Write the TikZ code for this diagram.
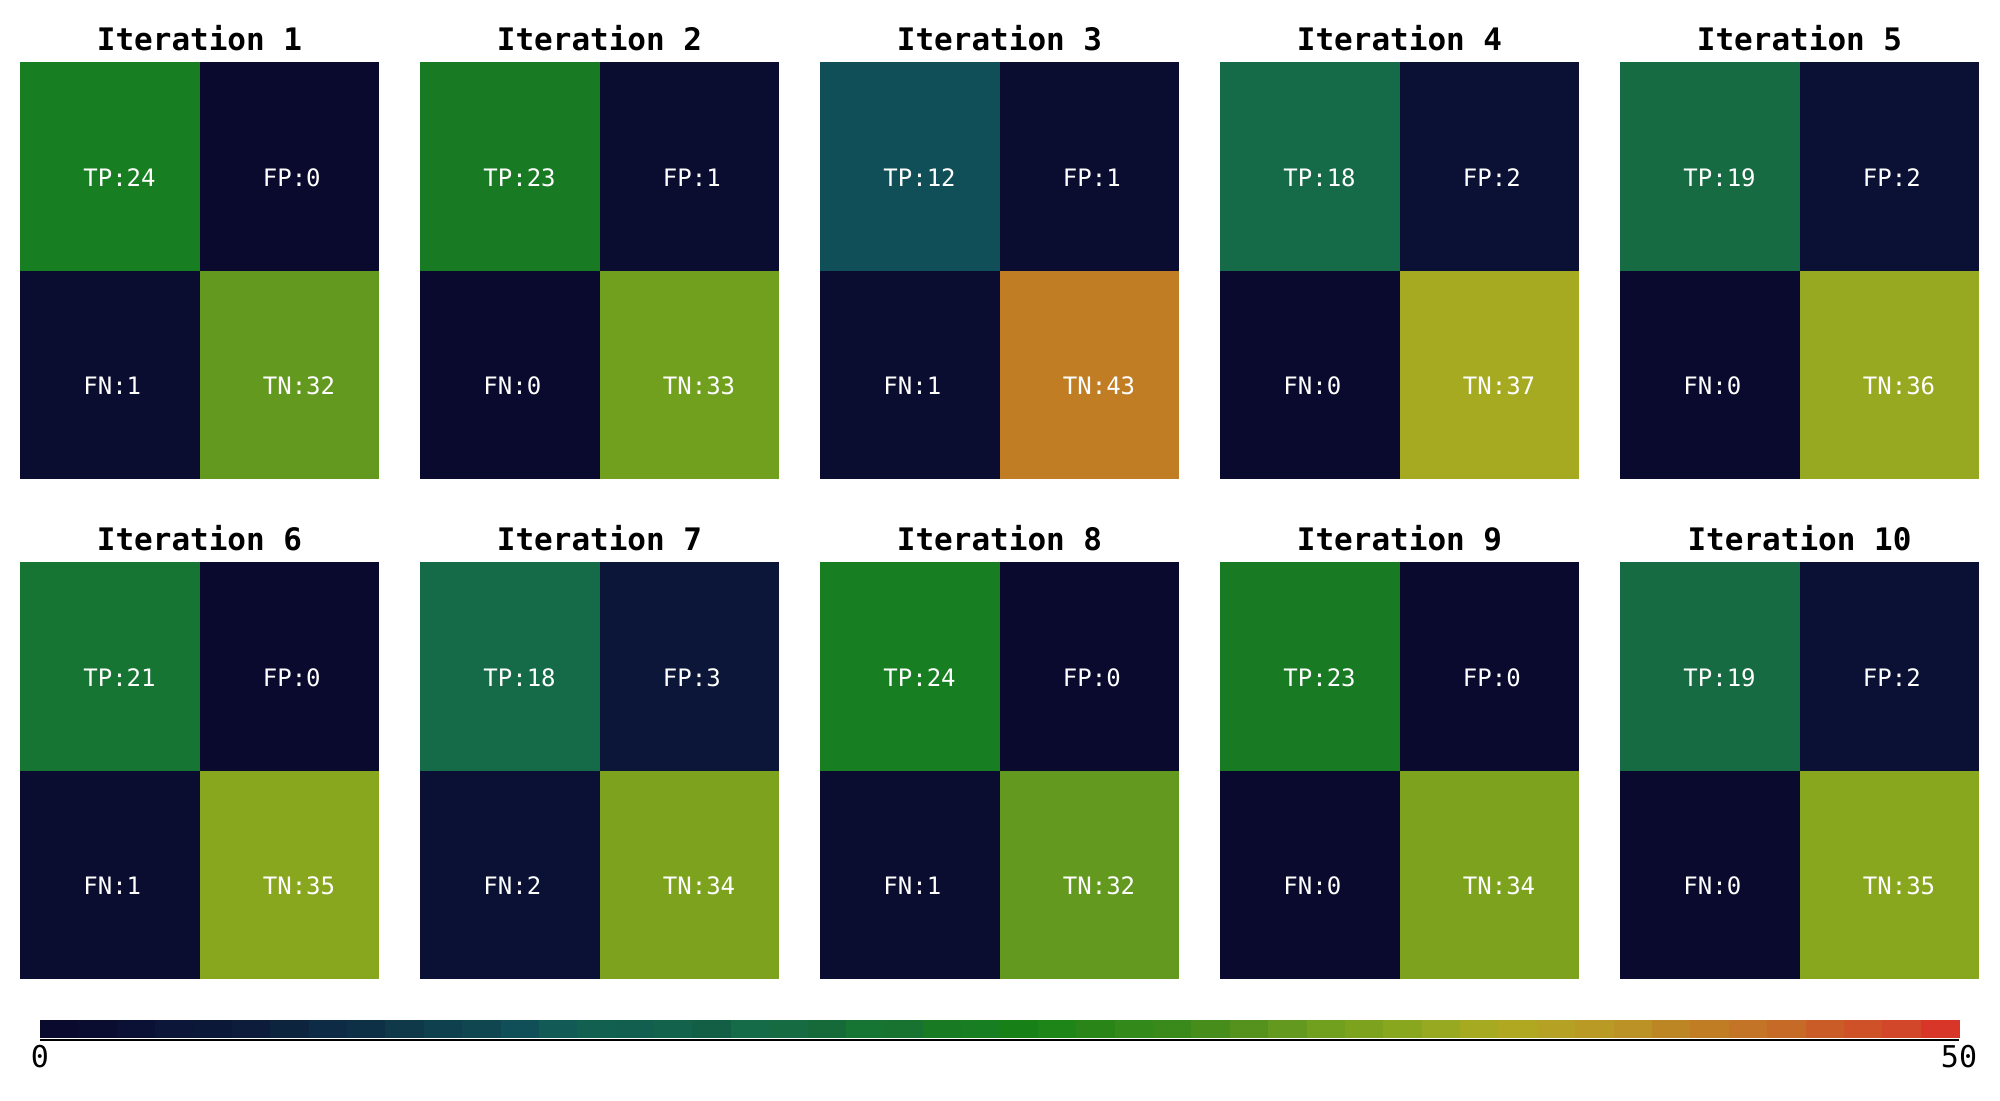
\documentclass[tikz,border=0pt]{standalone}
\usepackage{fontspec}
\usepackage{xcolor}
\usepackage{tikz}
\usetikzlibrary{positioning}
\newfontfamily\monofont{DejaVu Sans Mono}
% colour map, one colour for every count 0..49
\foreach \hx [count=\i from 0] in {090A2D,0A0C30,0B1134,0C1638,0B1838,0C1C3A,0C243E,0D2B44,0E3046,0F3849,
    0F404E,10464F,104F58,115A55,12604F,125E4F,13634C,135F45,156A48,166B42,
    166A3A,177533,17732F,187B24,177F21,178016,1E8518,2A8519,33891A,3A8A1B,
    468D1C,54921D,62991E,71A01E,7DA21E,89A61F,97A920,A6AA20,B0A820,B5A225,
    B89A25,BA9226,BC8625,C17D24,C47427,C66A27,CA5C28,CE5128,D24729,D73629}
    {\xglobal\definecolor{cm\i}{HTML}{\hx}}

\begin{document}
\begin{tikzpicture}[x=0.5pt, y=-0.5pt,
    cell/.style={rectangle, inner sep=0pt, outer sep=0pt, minimum width=89.75pt, minimum height=104.25pt, anchor=north west},
    val/.style={anchor=base west, inner sep=0pt, text=white, font=\monofont\fontsize{12pt}{14pt}\selectfont},
    ttl/.style={anchor=base, inner sep=0pt, font=\monofont\bfseries\fontsize{15.5pt}{18pt}\selectfont},
    tck/.style={anchor=base, inner sep=0pt, font=\monofont\fontsize{15pt}{18pt}\selectfont}]
    \useasboundingbox[fill=white] (0,0) rectangle (2000,1100);
    % one confusion matrix per iteration
    \foreach \tp/\fp/\fn/\tn [count=\n] in {24/0/1/32, 23/1/0/33, 12/1/1/43, 18/2/0/37, 19/2/0/36,
                                            21/0/1/35, 18/3/2/34, 24/0/1/32, 23/0/0/34, 19/2/0/35} {
        \pgfmathsetmacro\px{20+400*mod(\n-1,5)}
        \pgfmathsetmacro\py{62+500*int((\n-1)/5)}
        \node [cell, fill=cm\tp] (tp\n) at (\px,\py) {};
        \node [cell, fill=cm\fp, right=0pt of tp\n] (fp\n) {};
        \node [cell, fill=cm\fn, below=0pt of tp\n] (fn\n) {};
        \node [cell, fill=cm\tn, right=0pt of fn\n] (tn\n) {};
        \node [val] (tpl\n) at ([xshift=31.5pt, yshift=-62pt]tp\n.north west) {TP:\tp};
        \node [val] (fpl\n) at ([xshift=31.5pt, yshift=-62pt]fp\n.north west) {FP:\fp};
        \node [val] (fnl\n) at ([xshift=31.5pt, yshift=-62pt]fn\n.north west) {FN:\fn};
        \node [val] (tnl\n) at ([xshift=31.5pt, yshift=-62pt]tn\n.north west) {TN:\tn};
        \node [ttl] (ttl\n) at ([yshift=6pt]tp\n.north east) {Iteration \n};
    }
    % colour bar
    \foreach \i in {0,...,49}
        \fill [cm\i] ({40+38.38*\i},1020) rectangle ({40.6+38.38*(\i+1)},1038);
    \coordinate (cb0) at (40,1040);
    \coordinate (cb50) at (1959,1040);
    \draw [line width=0.6pt] (cb0) -- (cb50);
    \node [tck] (lab0) at ([yshift=-13.5pt]cb0) {0};
    \node [tck] (lab50) at ([yshift=-13.5pt]cb50) {50};
\end{tikzpicture}
\end{document}
